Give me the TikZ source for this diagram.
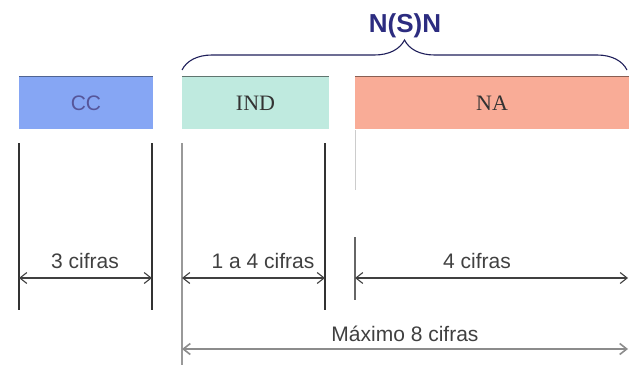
\documentclass[tikz,border=0pt]{standalone}
\usepackage{fontspec}
\setmainfont{Liberation Serif}
\setsansfont{Liberation Sans}
\usetikzlibrary{arrows.meta,decorations.pathreplacing}

\definecolor{ccblue}{HTML}{86A6F4}
\definecolor{indgreen}{HTML}{BFEADF}
\definecolor{nasalmon}{HTML}{F9AC97}
\definecolor{navy}{HTML}{2C2C80}

\begin{document}
\begin{tikzpicture}[x=1pt, y=1pt,
        field/.style={minimum height=52pt, inner sep=0pt, font=\fontsize{22}{24}\selectfont, text=black!80},
        wall/.style={black!80, line width=1.1pt},
        dim/.style={black!75, line width=1.1pt, {Straight Barb[length=7pt,width=11pt]}-{Straight Barb[length=7pt,width=11pt]}},
        lbl/.style={font=\sffamily\fontsize{21}{24}\selectfont, text=black!75}]

            \useasboundingbox (0, 0) rectangle (629, 365);

            \node[field, fill=ccblue, minimum width=134pt, text=navy!80, font=\sffamily\fontsize{21}{24}\selectfont] (CC) at (86, 262) {CC};
            \node[field, fill=indgreen, minimum width=147pt] (IND) at (255.5, 262) {IND};
            \node[field, fill=nasalmon, minimum width=274pt] (NA) at (492, 262) {NA};
            \draw[ccblue!60!black, line width=1.2pt] (CC.north west) -- (CC.north east);
            \draw[indgreen!50!black, line width=1.2pt] (IND.north west) -- (IND.north east);
            \draw[nasalmon!55!black, line width=1.2pt] (NA.north west) -- (NA.north east);

            \coordinate (B1) at (182, 295);
            \coordinate (B2) at (627, 295);
            \draw[navy!70!black, line width=1.1pt, decorate, decoration={brace, amplitude=30pt}] (B1) to (B2);
            \node[font=\sffamily\bfseries\fontsize{26}{28}\selectfont, text=navy] (NSN) at (405, 339) {N(S)N};

            \coordinate (L1) at (19, 222);
            \coordinate (L2) at (19, 55);
            \coordinate (L3) at (152, 222);
            \coordinate (L4) at (152, 55);
            \coordinate (L5) at (182, 222);
            \coordinate (L6) at (182, 0);
            \coordinate (L7) at (325, 222);
            \coordinate (L8) at (325, 55);
            \coordinate (L9) at (355, 128);
            \coordinate (L10) at (355, 65);
            \coordinate (L11) at (355, 235);
            \coordinate (L12) at (355, 175);

            \draw[wall] (L1) to (L2);
            \draw[wall] (L3) to (L4);
            \draw[wall, black!40] (L5) to (L6);
            \draw[wall] (L7) to (L8);
            \draw[wall, black!60] (L9) to (L10);
            \draw[black!20, line width=0.8pt] (L11) to (L12);

            \coordinate (A1) at (19, 87);
            \coordinate (A2) at (152, 87);
            \coordinate (A3) at (182, 87);
            \coordinate (A4) at (325, 87);
            \coordinate (A5) at (355, 87);
            \coordinate (A6) at (628, 87);
            \coordinate (A7) at (182, 16);
            \coordinate (A8) at (628, 16);

            \draw[dim] (A1) to (A2);
            \draw[dim] (A3) to (A4);
            \draw[dim] (A5) to (A6);
            \draw[dim, black!45, line width=1.6pt] (A7) to (A8);

            \node[lbl] (T1) at (85, 104) {3 cifras};
            \node[lbl] (T2) at (263, 104) {1 a 4 cifras};
            \node[lbl] (T3) at (477, 104) {4 cifras};
            \node[lbl] (T4) at (405, 31) {Máximo 8 cifras};

        \end{tikzpicture}
\end{document}
